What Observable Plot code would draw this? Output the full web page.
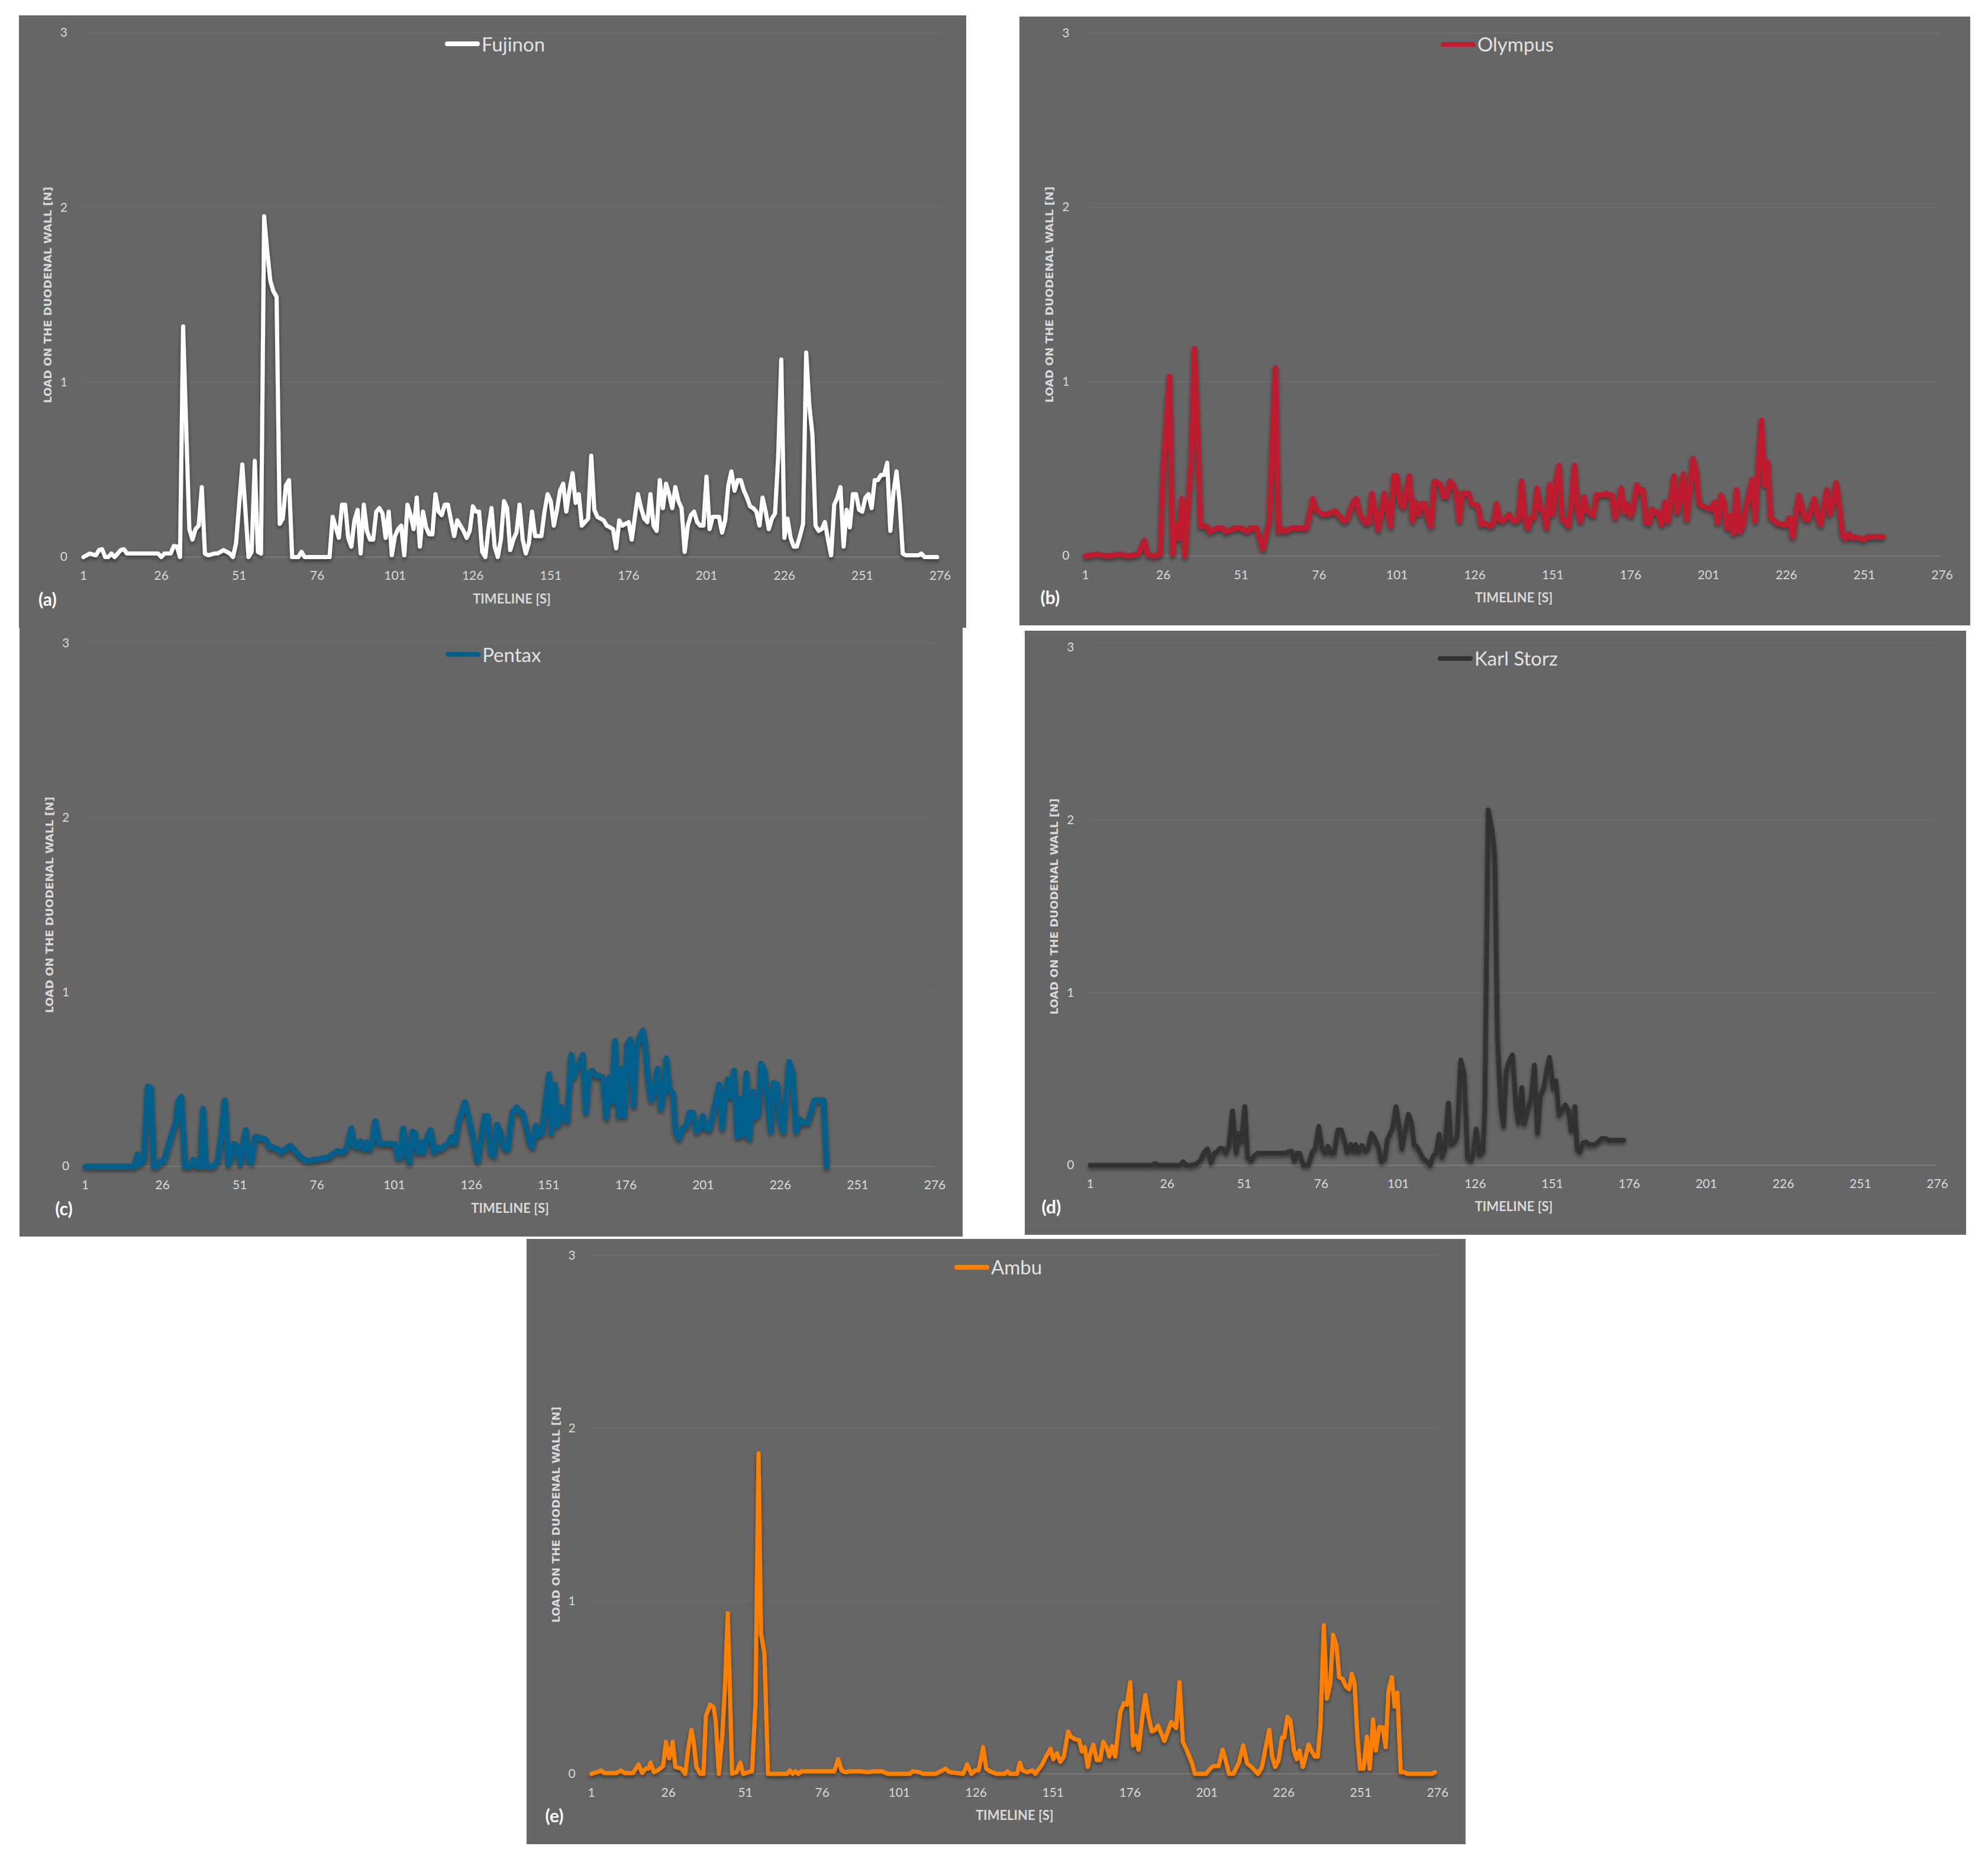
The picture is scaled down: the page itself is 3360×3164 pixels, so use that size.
<!DOCTYPE html>
<html>
<head>
<meta charset="utf-8">
<script src="https://cdn.jsdelivr.net/npm/d3@7"></script>
<script src="https://cdn.jsdelivr.net/npm/@observablehq/plot@0.6"></script>
<style>
  html, body { margin: 0; padding: 0; background: #ffffff; overflow: hidden; }
  #root { position: relative; width: 3360px; height: 3164px; background: #ffffff; }
  .panel { position: absolute; background: #666666; overflow: visible; }
  .panel svg { position: absolute; left: 0; top: 0; max-width: none !important; }
  .legend { position: absolute; left: 0; width: 100%; height: 40px; display: flex; justify-content: center; align-items: center; }
  .legend .sw { display: inline-block; width: 59px; height: 8px; border-radius: 4px; margin-right: 3px; }
  .legend .lab { font-family: Lato, "Open Sans", sans-serif; font-size: 33px; line-height: 1; color: #e2e2e2; }
</style>
</head>
<body>
<div id="root"></div>
<script>
// ---------- data (time [s], load [N]) ----------
const xTicks = [1, 26, 51, 76, 101, 126, 151, 176, 201, 226, 251, 276];
const yTicks = [0, 1, 2, 3];
const seriesNames = ["Fujinon", "Olympus", "Pentax", "Karl Storz", "Ambu"];
const panelTags = ["(a)", "(b)", "(c)", "(d)", "(e)"];
const xTitle = "TIMELINE [S]";
const yTitle = "LOAD ON THE DUODENAL WALL [N]";

const fujinon = [[1,0],[3,0.02],[5,0.01],[6,0.04],[7,0.045],[8,0],[9,0],[10,0.02],[11,0],[13,0.04],[14,0.045],[15,0.02],[25,0.02],[26,0],[27,0.02],[29,0.02],[30,0.063],[31,0.06],[32,0],[33,1.32],[34,0.73],[35,0.16],[36,0.1],[37,0.16],[38,0.18],[39,0.4],[40,0.02],[41,0.01],[43,0.02],[44,0.02],[46,0.04],[48,0.02],[49,0],[50,0.08],[52,0.53],[54,0],[55,0.03],[56,0.55],[57,0.03],[58,0.02],[59,1.95],[60,1.75],[61,1.58],[62,1.52],[63,1.49],[64,0.19],[65,0.22],[66,0.41],[67,0.44],[68,0],[70,0],[71,0.03],[72,0],[80,0],[81,0.23],[83,0.11],[84,0.3],[85,0.3],[86,0.11],[87,0.06],[88,0.21],[89,0.27],[90,0.02],[91,0.3],[92,0.15],[93,0.1],[94,0.1],[95,0.26],[96,0.28],[97,0.25],[98,0.11],[99,0.26],[100,0.01],[101,0.12],[102,0.16],[103,0.18],[104,0.01],[105,0.3],[106,0.24],[107,0.16],[108,0.34],[109,0.06],[110,0.26],[111,0.17],[112,0.13],[113,0.13],[114,0.36],[115,0.26],[116,0.24],[117,0.3],[118,0.3],[119,0.21],[120,0.12],[121,0.21],[122,0.18],[123,0.15],[124,0.11],[125,0.15],[126,0.29],[127,0.26],[128,0.26],[129,0.03],[130,0],[131,0.16],[132,0.28],[133,0.06],[134,0],[135,0.1],[136,0.32],[137,0.28],[138,0.04],[139,0.1],[140,0.14],[141,0.3],[142,0.1],[143,0.02],[144,0.08],[145,0.26],[146,0.12],[147,0.12],[148,0.12],[149,0.26],[150,0.36],[151,0.32],[152,0.18],[153,0.27],[154,0.38],[155,0.42],[156,0.26],[157,0.38],[158,0.48],[159,0.31],[160,0.36],[161,0.18],[162,0.2],[163,0.22],[164,0.58],[165,0.27],[166,0.23],[167,0.22],[168,0.21],[169,0.18],[170,0.17],[171,0.16],[172,0.05],[173,0.21],[174,0.18],[175,0.19],[176,0.2],[177,0.1],[179,0.36],[180,0.28],[181,0.22],[182,0.2],[183,0.36],[184,0.18],[185,0.15],[186,0.44],[187,0.28],[188,0.42],[189,0.36],[190,0.28],[191,0.4],[192,0.32],[193,0.28],[194,0.03],[195,0.18],[196,0.24],[197,0.26],[198,0.2],[199,0.18],[200,0.18],[201,0.46],[202,0.16],[203,0.23],[204,0.23],[205,0.23],[206,0.14],[207,0.21],[208,0.41],[209,0.49],[210,0.38],[211,0.44],[212,0.44],[213,0.38],[214,0.34],[215,0.29],[216,0.28],[217,0.26],[218,0.18],[219,0.34],[220,0.26],[221,0.16],[222,0.22],[223,0.25],[224,0.57],[225,1.13],[226,0.11],[227,0.22],[228,0.11],[229,0.06],[230,0.06],[231,0.12],[232,0.19],[233,1.17],[234,0.87],[235,0.7],[236,0.18],[237,0.15],[238,0.16],[239,0.2],[240,0.1],[241,0.01],[242,0.3],[243,0.34],[244,0.4],[245,0.06],[246,0.27],[247,0.17],[248,0.36],[249,0.36],[250,0.27],[251,0.26],[252,0.34],[253,0.36],[254,0.28],[255,0.44],[256,0.44],[257,0.47],[258,0.47],[259,0.54],[260,0.15],[261,0.37],[262,0.49],[263,0.31],[264,0.02],[265,0.01],[269,0.01],[270,0.02],[271,0],[275,0]];

const olympus = [[1,0],[5,0.01],[8,0],[12,0.01],[15,0],[18,0.01],[20,0.09],[21,0.01],[23,0],[25,0.01],[26,0.5],[28,1.03],[29,0.01],[30,0.18],[31,0.1],[32,0.33],[33,0],[34,0.3],[35,0.55],[36,1.19],[37,0.72],[38,0.17],[40,0.17],[41,0.14],[43,0.16],[45,0.16],[46,0.14],[49,0.16],[51,0.16],[53,0.14],[54,0.16],[56,0.16],[58,0.04],[60,0.2],[62,1.08],[63,0.14],[64,0.16],[65,0.14],[67,0.16],[72,0.16],[74,0.33],[75,0.27],[77,0.24],[79,0.24],[81,0.26],[82,0.24],[84,0.2],[85,0.21],[87,0.31],[88,0.33],[89,0.24],[91,0.19],[92,0.19],[93,0.36],[95,0.15],[97,0.36],[99,0.17],[100,0.46],[101,0.46],[102,0.31],[103,0.28],[105,0.46],[106,0.2],[107,0.31],[108,0.24],[109,0.3],[110,0.3],[111,0.21],[112,0.17],[113,0.43],[115,0.41],[116,0.34],[117,0.34],[118,0.43],[119,0.41],[120,0.37],[121,0.2],[122,0.36],[124,0.36],[125,0.3],[127,0.29],[128,0.18],[129,0.19],[131,0.17],[132,0.19],[133,0.3],[134,0.21],[135,0.2],[137,0.24],[138,0.21],[139,0.2],[140,0.21],[141,0.43],[142,0.23],[143,0.16],[144,0.22],[145,0.22],[146,0.39],[147,0.27],[148,0.26],[149,0.16],[150,0.41],[151,0.24],[152,0.43],[153,0.52],[154,0.21],[155,0.2],[156,0.17],[157,0.3],[158,0.52],[159,0.27],[160,0.2],[161,0.34],[162,0.26],[163,0.25],[164,0.23],[165,0.35],[167,0.35],[168,0.36],[169,0.35],[170,0.35],[171,0.22],[172,0.3],[173,0.39],[174,0.25],[175,0.3],[176,0.23],[177,0.29],[178,0.41],[179,0.37],[180,0.38],[181,0.19],[182,0.19],[183,0.27],[184,0.25],[185,0.25],[186,0.18],[187,0.31],[188,0.2],[190,0.46],[191,0.25],[193,0.47],[194,0.21],[195,0.37],[196,0.56],[197,0.5],[198,0.3],[199,0.29],[200,0.28],[202,0.27],[203,0.31],[204,0.19],[205,0.35],[206,0.31],[207,0.16],[208,0.23],[209,0.13],[210,0.38],[211,0.14],[212,0.17],[213,0.27],[215,0.44],[216,0.2],[217,0.51],[218,0.78],[219,0.41],[220,0.54],[221,0.22],[223,0.19],[225,0.18],[226,0.18],[227,0.22],[228,0.11],[230,0.35],[232,0.21],[233,0.21],[235,0.33],[236,0.23],[237,0.18],[239,0.38],[240,0.24],[241,0.31],[242,0.42],[243,0.29],[244,0.12],[245,0.1],[246,0.13],[247,0.105],[248,0.11],[250,0.1],[251,0.095],[252,0.11],[257,0.11]];

const pentax = [[1,0],[17,0],[17.9,0.07],[18.9,0.015],[20,0.04],[21.2,0.46],[22.3,0.45],[23.2,0],[24.2,0],[25.4,0.03],[26.4,0.03],[27.3,0.08],[28.8,0.17],[30.3,0.25],[31,0.37],[32.1,0.4],[33.3,0],[34.8,0],[36,0.04],[37.1,0],[38.2,0],[39.1,0.33],[40.1,0],[42.4,0],[43.9,0.03],[45.1,0.19],[46.2,0.38],[47.3,0.01],[48.2,0.05],[49.2,0.13],[50.3,0.11],[51.2,0.015],[52.3,0.145],[53,0.21],[53.9,0.04],[54.8,0.02],[56,0.17],[57,0.17],[57.9,0.16],[58.9,0.16],[59.7,0.145],[60.8,0.11],[61.9,0.11],[63.3,0.1],[64.3,0.08],[65.9,0.1],[67.4,0.12],[68.9,0.09],[70.4,0.06],[71.9,0.04],[73.4,0.03],[74.9,0.04],[76.5,0.04],[78,0.05],[79.5,0.05],[81,0.07],[82.6,0.09],[84.1,0.08],[85.6,0.1],[87.1,0.22],[88.1,0.12],[89,0.11],[90.1,0.145],[91.2,0.1],[92.1,0.14],[93.1,0.1],[93.8,0.13],[94.9,0.26],[96.2,0.13],[101.2,0.13],[102.2,0.05],[103,0.05],[103.9,0.22],[104.9,0.09],[105.9,0.02],[106.9,0.2],[107.8,0.19],[108.7,0.08],[109.8,0.14],[110.5,0.08],[111.8,0.17],[112.8,0.21],[113.9,0.08],[115.1,0.11],[116.3,0.1],[117.4,0.12],[118.4,0.13],[119.6,0.17],[120.7,0.13],[121.9,0.26],[123.9,0.37],[125.4,0.26],[126.5,0.17],[128,0.03],[129.1,0.145],[130.3,0.29],[131.3,0.29],[132.2,0.08],[133.3,0.06],[134.3,0.24],[135.5,0.19],[136.3,0.12],[137,0.1],[137.8,0.1],[139.3,0.31],[140.7,0.34],[141.8,0.31],[142.5,0.31],[143.6,0.24],[144.7,0.145],[145.7,0.11],[146.9,0.235],[147.8,0.18],[148.9,0.19],[149.9,0.35],[151.2,0.53],[151.9,0.19],[153,0.47],[154,0.235],[155,0.34],[156,0.27],[157,0.26],[158.3,0.64],[159,0.51],[160.2,0.575],[161.3,0.6],[162,0.64],[163.1,0.31],[164,0.53],[165.1,0.55],[166.2,0.52],[167.4,0.52],[168.6,0.51],[169.7,0.28],[170.7,0.51],[171.4,0.37],[172.5,0.72],[173.7,0.29],[174.5,0.56],[175.5,0.29],[176.4,0.7],[177.5,0.73],[178.5,0.35],[179.4,0.68],[180.5,0.745],[181.5,0.78],[182.3,0.69],[183.2,0.5],[184.2,0.38],[185.2,0.44],[186.3,0.56],[187.4,0.33],[188.4,0.43],[189.1,0.62],[190.1,0.44],[191.3,0.42],[192.1,0.2],[193.2,0.16],[194.4,0.22],[195.6,0.23],[196.6,0.31],[197.7,0.31],[198.9,0.2],[200,0.22],[200.9,0.29],[201.9,0.22],[203,0.21],[204.2,0.3],[205.3,0.39],[206.2,0.47],[207.2,0.22],[208,0.38],[209,0.5],[210,0.4],[211,0.55],[212.1,0.17],[213,0.39],[213.9,0.18],[215,0.535],[216,0.16],[217.1,0.43],[217.9,0.28],[218.9,0.3],[219.8,0.59],[220.9,0.55],[221.9,0.38],[222.9,0.2],[223.9,0.48],[225,0.47],[225.9,0.26],[227,0.2],[228,0.42],[228.9,0.6],[230,0.54],[231.1,0.2],[232.3,0.27],[233.5,0.25],[235,0.25],[237,0.38],[240,0.38],[241,0]];

const karlStorz = [[1,0],[21,0],[22.2,0.01],[23,0],[30.1,0],[31.2,0.02],[32.3,0],[34,0],[35.7,0.01],[36.9,0.03],[38,0.075],[39.1,0.095],[40.2,0.015],[41.4,0.07],[42.3,0.08],[43.3,0.1],[44.2,0.095],[45.1,0.07],[46.1,0.12],[47.2,0.315],[48.4,0.07],[49.3,0.185],[50.1,0.135],[51.2,0.34],[52.1,0.045],[53.2,0.025],[54.3,0.055],[55.4,0.07],[64.5,0.07],[65.6,0.08],[66.4,0.08],[67.3,0.025],[68.1,0.07],[69,0.07],[70.2,0],[71.8,0],[73.2,0.08],[74.1,0.095],[75.2,0.225],[76.3,0.095],[77.2,0.07],[78.2,0.11],[79.1,0.07],[80.2,0.07],[81.4,0.205],[82.5,0.205],[83.6,0.135],[84.4,0.075],[85.6,0.12],[86.4,0.08],[87.2,0.12],[88.1,0.075],[89.2,0.115],[90.4,0.08],[91.2,0.095],[92.3,0.185],[93.4,0.155],[94.6,0.1],[95.5,0.02],[96.6,0.035],[97.5,0.15],[99.1,0.21],[100.3,0.34],[101.3,0.225],[102.2,0.095],[103.1,0.18],[104.3,0.295],[105.3,0.245],[106.2,0.115],[107,0.11],[107.9,0.08],[109,0.04],[110.1,0.025],[111.3,0],[112.4,0.055],[113.3,0.07],[114.3,0.18],[115.2,0.045],[116.1,0.09],[117.3,0.36],[118.1,0.12],[119,0.13],[120.1,0.165],[121.3,0.61],[122.4,0.53],[123.5,0.04],[124.6,0.025],[125.4,0.07],[126.3,0.21],[127.4,0.06],[128.5,0.08],[129.1,0.33],[130.2,2.06],[131.3,1.96],[132.1,1.84],[132.4,1.73],[133.2,0.74],[134.3,0.34],[135.2,0.225],[136,0.54],[136.9,0.6],[138.1,0.64],[139.2,0.34],[140,0.245],[141.1,0.45],[141.9,0.24],[143,0.32],[144.1,0.385],[145.2,0.58],[146.2,0.185],[147.1,0.4],[148.2,0.445],[149.3,0.56],[150.1,0.625],[151.3,0.445],[152.2,0.49],[153.2,0.29],[154.1,0.315],[155.2,0.35],[156.3,0.315],[157.1,0.2],[157.8,0.205],[158.3,0.34],[159.1,0.09],[159.9,0.075],[161,0.13],[161.9,0.135],[163.1,0.12],[164.7,0.12],[165.9,0.135],[167,0.155],[168.4,0.155],[169.3,0.145],[174.2,0.145]];

const ambu = [[1,0],[2.8,0.01],[4.1,0.02],[5.2,0.005],[9.1,0.005],[10.5,0.02],[11.8,0.005],[14.5,0.005],[16.3,0.055],[17.5,0.005],[18.6,0.03],[19.5,0.03],[20.2,0.065],[21.3,0.01],[22.5,0.02],[24.3,0.045],[25.2,0.185],[26.3,0.09],[27.4,0.185],[28.3,0.04],[29.3,0.035],[30.3,0.03],[31.5,0],[32.4,0.14],[33.5,0.255],[34.2,0.19],[35.1,0.04],[36.4,0],[37.4,0],[38.2,0.335],[39.6,0.4],[40.7,0.385],[41.4,0.305],[42.4,0],[43.5,0.215],[44.4,0.505],[45.3,0.93],[46,0.49],[46.7,0],[48.2,0.01],[49.4,0.065],[50.3,0],[52.1,0.01],[53.2,0.015],[54.3,0.405],[55.3,1.855],[56.1,0.81],[57.2,0.7],[58.4,0],[64.6,0],[65.5,0.02],[66.4,0],[67.3,0.015],[68.2,0],[69.2,0.015],[79.9,0.015],[81.2,0.085],[82.3,0.02],[83.5,0.01],[85.2,0.015],[88.8,0.015],[90.5,0.01],[92.8,0.015],[95.5,0.015],[97.3,0],[104.5,0],[105.3,0.015],[107.1,0.012],[108.9,0],[112.8,0],[116.1,0.03],[117.4,0.01],[121.8,0],[123.1,0.055],[124.5,0],[125.7,0.02],[126.8,0.02],[128.3,0.155],[129.3,0.03],[130.6,0.015],[132.6,0],[135.3,0],[136.2,0.015],[137,0],[139.3,0],[140.2,0.065],[141.1,0.02],[142.6,0.01],[144.3,0.02],[145.2,0],[147.3,0.05],[148.7,0.1],[150.2,0.145],[151.1,0.085],[152.3,0.12],[153.4,0.07],[154.5,0.1],[155.9,0.245],[156.8,0.215],[158.2,0.2],[159.5,0.195],[160.4,0.13],[161.3,0.155],[162.3,0.04],[163.1,0.115],[164.1,0.17],[165.2,0.08],[166.3,0.08],[167.3,0.185],[168.4,0.155],[169.3,0.1],[170.2,0.16],[171.2,0.1],[172.9,0.36],[174.1,0.41],[175,0.4],[176.1,0.53],[177,0.165],[177.9,0.22],[178.8,0.14],[180.1,0.34],[181,0.455],[182,0.335],[183.1,0.245],[184.2,0.255],[185.1,0.28],[186.3,0.23],[187.2,0.19],[188.5,0.255],[189.4,0.3],[190.3,0.28],[191,0.265],[192.1,0.53],[193.2,0.185],[194.4,0.14],[195.3,0.1],[196.2,0.06],[197.1,0],[200.7,0],[202.1,0.03],[203,0.045],[204.8,0.045],[206.1,0.14],[207,0.085],[208.2,0],[209.6,0],[211.4,0.065],[212.8,0.165],[214.1,0.06],[215.5,0.04],[216.8,0.015],[217.6,0],[218.9,0.04],[220.4,0.18],[221.3,0.255],[222.2,0.1],[223.2,0.04],[224.3,0.08],[225.4,0.21],[226.1,0.21],[227.2,0.33],[228.1,0.31],[229.3,0.135],[230.2,0.085],[231.1,0.135],[232.2,0.04],[233.1,0.1],[234,0.17],[235.1,0.13],[236.1,0.1],[237,0.1],[237.9,0.28],[239,0.86],[240,0.435],[241.1,0.52],[242,0.805],[243.1,0.745],[244,0.56],[245.1,0.55],[246.2,0.505],[247.2,0.49],[248.1,0.58],[249,0.52],[249.9,0.215],[250.8,0.03],[251.9,0.03],[253,0.215],[253.9,0.03],[255,0.315],[255.9,0.135],[257,0.27],[258.1,0.27],[259.1,0.155],[260,0.48],[261.1,0.56],[262,0.39],[262.9,0.47],[264,0.01],[265.2,0.01],[266.1,0],[274.1,0],[275.1,0.01]];

const seriesData = [fujinon, olympus, pentax, karlStorz, ambu];

// ---------- styling / layout (not data) ----------
const seriesColors = ["#ffffff", "#be1e2d", "#015f8b", "#333333", "#ff8000"];
const strokeWidths = [7, 9, 9.5, 8, 7];
// panel box [left, top, right, bottom] and plot frame [x(1), y(3), x(276), y(0)] in page px
const layout = [
  { box: [32, 26, 1633, 1061],       frame: [140.5, 55, 1588.5, 941],     tag: [-76, 73], legY: 48 },
  { box: [1723, 27.5, 3330, 1057],   frame: [1834, 55, 3282, 938.7],      tag: [-76, 72], legY: 47 },
  { box: [32.5, 1061, 1627, 2090],   frame: [143.2, 1086.8, 1579, 1971],  tag: [-51, 73], legY: 45 },
  { box: [1732, 1065.5, 3323, 2087], frame: [1842, 1093.7, 3274, 1968.4], tag: [-82, 72], legY: 47 },
  { box: [889.6, 2094.4, 2476.6, 3117], frame: [998.7, 2122, 2429, 2998], tag: [-78, 72], legY: 47.6 }
];

const root = document.getElementById("root");

seriesData.forEach((data, i) => {
  const L = layout[i];
  const [bx0, by0, bx1, by1] = L.box;
  const [fx0, fy3, fx1, fy0] = L.frame;
  const W = bx1 - bx0, H = by1 - by0;

  const panel = document.createElement("div");
  panel.className = "panel";
  panel.style.left = bx0 + "px";
  panel.style.top = by0 + "px";
  panel.style.width = W + "px";
  panel.style.height = H + "px";

  const chart = Plot.plot({
    width: W,
    height: H,
    marginLeft: fx0 - bx0,
    marginRight: bx1 - fx1,
    marginTop: fy3 - by0,
    marginBottom: by1 - fy0,
    x: { type: "linear", domain: [1, 276] },
    y: { type: "linear", domain: [0, 3] },
    style: { background: "transparent", fontFamily: "Lato, 'Open Sans', sans-serif", fontSize: "21px", color: "#d9d9d9", overflow: "visible" },
    marks: [
      Plot.ruleY(yTicks, { stroke: d => d === 0 ? "#7a7a7a" : "#6f6f6f", strokeWidth: d => d === 0 ? 2 : 1.5 }),
      Plot.axisX({ ticks: xTicks, tickSize: 0, tickPadding: 24, tickFormat: d => String(d), label: null, fill: "#d9d9d9" }),
      Plot.axisY({ ticks: yTicks, tickSize: 0, tickPadding: 27, tickFormat: d => String(d), label: null, fill: "#d9d9d9" }),
      Plot.line(data, { x: d => d[0], y: d => d[1], stroke: seriesColors[i], strokeWidth: strokeWidths[i], strokeLinejoin: "round", strokeLinecap: "round", curve: "linear" }),
      Plot.text([xTitle], { text: d => d, frameAnchor: "bottom", dy: 71, lineAnchor: "middle", textAnchor: "middle", fontWeight: "bold", fontSize: 22, fill: "#d9d9d9" }),
      Plot.text([yTitle], { text: d => d, frameAnchor: "left", dx: -60, rotate: -90, lineAnchor: "middle", textAnchor: "middle", fontFamily: "'DejaVu Sans', sans-serif", fontWeight: "bold", fontSize: 18.5, fill: "#d9d9d9" }),
      Plot.text([panelTags[i]], { text: d => d, frameAnchor: "bottom-left", dx: L.tag[0], dy: L.tag[1], lineAnchor: "middle", textAnchor: "start", fontWeight: "bold", fontSize: 30, fill: "#ffffff" })
    ]
  });

  // soft drop shadow under the series line, as in the original
  const svg = d3.select(chart);
  const fid = "shadow" + i;
  const defs = svg.insert("defs", ":first-child");
  const f = defs.append("filter").attr("id", fid).attr("x", "-5%").attr("y", "-10%").attr("width", "110%").attr("height", "130%");
  f.append("feDropShadow").attr("dx", 0).attr("dy", 4).attr("stdDeviation", 3).attr("flood-color", "#000").attr("flood-opacity", 0.45);
  svg.selectAll('g[aria-label="line"]').attr("filter", `url(#${fid})`);

  panel.appendChild(chart);

  const leg = document.createElement("div");
  leg.className = "legend";
  leg.style.top = (L.legY - 20) + "px";
  leg.style.transform = "translateX(4px)";
  const sw = document.createElement("span");
  sw.className = "sw";
  sw.style.background = seriesColors[i];
  const lab = document.createElement("span");
  lab.className = "lab";
  lab.textContent = seriesNames[i];
  leg.appendChild(sw);
  leg.appendChild(lab);
  panel.appendChild(leg);

  root.appendChild(panel);
});
</script>
</body>
</html>
